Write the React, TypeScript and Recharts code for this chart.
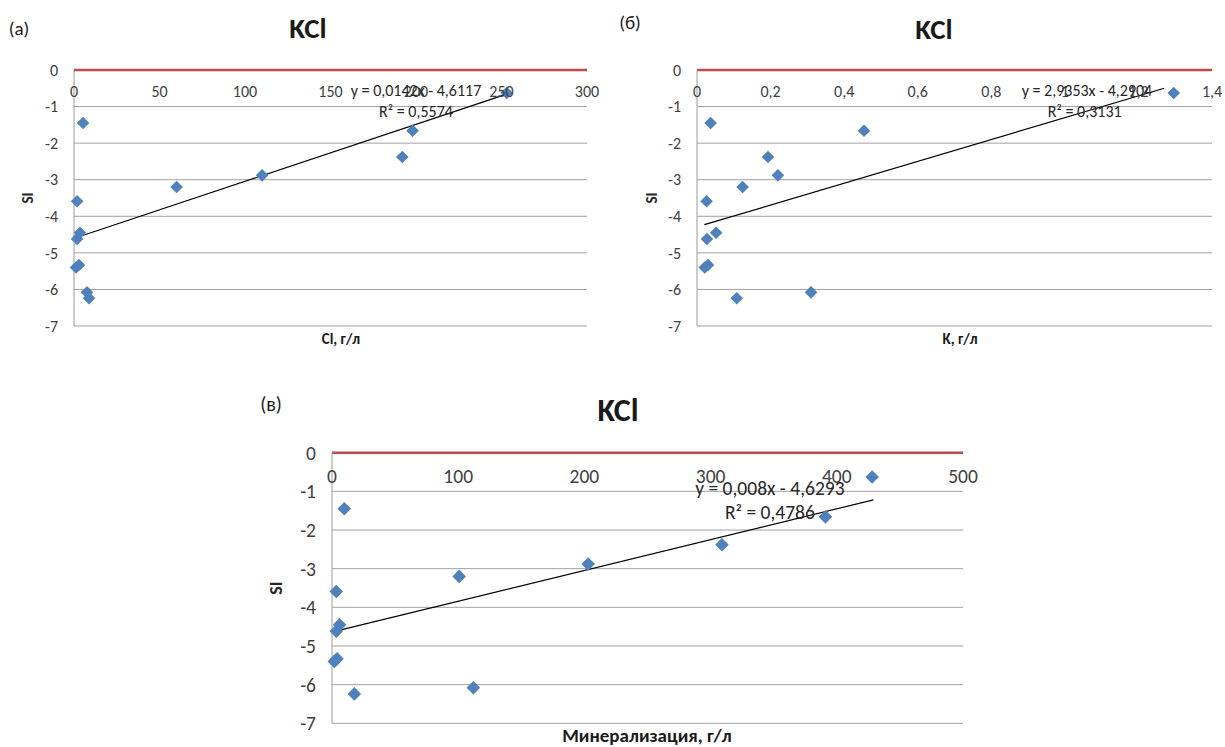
import {
  ScatterChart,
  Scatter,
  XAxis,
  YAxis,
  ZAxis,
  CartesianGrid,
  ReferenceLine,
  ReferenceDot,
} from "recharts";

const FONT = "Carlito, Calibri, Lato, 'Open Sans', sans-serif";

// SI values, same samples on every panel
const siValues = [-1.45, -3.59, -4.45, -4.62, -5.4, -5.33, -6.08, -6.24, -3.2, -2.88, -1.66, -2.38, -0.63];
// x values, in the same order
const clValues = [5.3, 1.8, 3.5, 1.8, 1.2, 2.9, 7.6, 8.8, 60, 110, 198, 192, 253];
const kValues = [0.037, 0.026, 0.052, 0.027, 0.021, 0.03, 0.31, 0.108, 0.124, 0.22, 0.454, 0.193, 1.296];
const minValues = [9.7, 3.4, 6, 3.4, 1.8, 4, 112, 17.7, 100.8, 203, 391, 309, 428];

const siTicks = [0, -1, -2, -3, -4, -5, -6, -7];
const clTicks = [0, 50, 100, 150, 200, 250, 300];
const kTicks = [0, 0.2, 0.4, 0.6, 0.8, 1, 1.2, 1.4];
const minTicks = [0, 100, 200, 300, 400, 500];

// trend line ends as drawn
const clTrend = [{ x: 1.5, y: -4.58 }, { x: 253, y: -0.66 }];
const kTrend = [{ x: 0.02, y: -4.23 }, { x: 1.27, y: -0.5 }];
const minTrend = [{ x: 1.3, y: -4.63 }, { x: 429, y: -1.22 }];

const toPoints = (xs: number[]) => xs.map((x, i) => ({ x, y: siValues[i] }));
const fmt = (v: number) => String(v).replace(".", ",");

// Excel-style square diamond marker
const diamond = (r: number) => (props: any) => {
  const { cx, cy } = props;
  return (
    <polygon
      points={`${cx},${cy - r} ${cx + r},${cy} ${cx},${cy + r} ${cx - r},${cy}`}
      fill="#4f81bd"
    />
  );
};

type PanelProps = {
  left: number;
  top: number;
  width: number;
  height: number;
  yWidth: number;
  margin: { top: number; right: number; bottom: number; left: number };
  xs: number[];
  xTicks: number[];
  trend: { x: number; y: number }[];
  eq: string;
  r2: string;
  eqAt: { x: number; y: number };
  r2At: { x: number; y: number };
  fontSize: number;
  siSize: number;
  siDx: number;
  marker: number;
};

function Panel(p: PanelProps) {
  const tickStyle = { fill: "#404040", fontSize: p.fontSize, fontFamily: FONT };
  const lbl = (value: string) => ({
    value,
    position: "center" as const,
    fill: "#262626",
    fontSize: p.fontSize,
    fontFamily: FONT,
  });
  return (
    <div style={{ position: "absolute", left: p.left, top: p.top }}>
      <ScatterChart width={p.width} height={p.height} margin={p.margin}>
        <CartesianGrid vertical={false} stroke="#a0a0a0" />
        <XAxis
          type="number"
          dataKey="x"
          domain={[p.xTicks[0], p.xTicks[p.xTicks.length - 1]]}
          ticks={p.xTicks}
          orientation="top"
          mirror
          interval={0}
          axisLine={{ stroke: "#be4b48", strokeWidth: 2.5 }}
          tickLine={false}
          tickSize={8}
          tickMargin={8}
          tickFormatter={fmt}
          tick={tickStyle}
        />
        <YAxis
          type="number"
          dataKey="y"
          domain={[-7, 0]}
          ticks={siTicks}
          interval={0}
          width={p.yWidth}
          axisLine={{ stroke: "#9a9a9a" }}
          tickLine={false}
          tickSize={8}
          tickMargin={8}
          tick={tickStyle}
          label={{
            value: "SI",
            angle: -90,
            position: "center",
            dx: p.siDx,
            fill: "#262626",
            fontSize: p.siSize,
            fontWeight: 700,
            fontFamily: FONT,
          }}
        />
        <ZAxis range={[70, 70]} />
        <ReferenceLine segment={p.trend} stroke="#000" strokeWidth={1.2} ifOverflow="visible" />
        <Scatter data={toPoints(p.xs)} fill="#4f81bd" shape={diamond(p.marker)} isAnimationActive={false} />
        <ReferenceDot x={p.eqAt.x} y={p.eqAt.y} r={0} stroke="none" label={lbl(p.eq)} />
        <ReferenceDot x={p.r2At.x} y={p.r2At.y} r={0} stroke="none" label={lbl(p.r2)} />
      </ScatterChart>
    </div>
  );
}

function Txt({ x, y, size, bold, children }: { x: number; y: number; size: number; bold?: boolean; children: string }) {
  return (
    <div
      style={{
        position: "absolute",
        left: x,
        top: y,
        transform: "translate(-50%, -50%)",
        fontFamily: FONT,
        fontSize: size,
        fontWeight: bold ? 700 : 400,
        color: "#1a1a1a",
        whiteSpace: "nowrap",
        lineHeight: 1,
      }}
    >
      {children}
    </div>
  );
}

export default function App() {
  return (
    <div style={{ position: "absolute", left: 0, top: 0, width: 1225, height: 747, background: "#fff", overflow: "hidden" }}>
      <Panel
        left={0}
        top={0}
        width={600}
        height={350}
        yWidth={74}
        margin={{ top: 70, right: 13, bottom: 24, left: 0 }}
        xs={clValues}
        xTicks={clTicks}
        trend={clTrend}
        eq="y = 0,0142x - 4,6117"
        r2="R² = 0,5574"
        eqAt={{ x: 200, y: -0.55 }}
        r2At={{ x: 200, y: -1.12 }}
        fontSize={16}
        siSize={15}
        siDx={-9}
        marker={6.3}
      />
      <Panel
        left={610}
        top={0}
        width={615}
        height={350}
        yWidth={87}
        margin={{ top: 70, right: 13, bottom: 24, left: 0 }}
        xs={kValues}
        xTicks={kTicks}
        trend={kTrend}
        eq="y = 2,9353x - 4,2904"
        r2="R² = 0,3131"
        eqAt={{ x: 1.06, y: -0.55 }}
        r2At={{ x: 1.054, y: -1.12 }}
        fontSize={16}
        siSize={15}
        siDx={-1.5}
        marker={6.3}
      />
      <Panel
        left={250}
        top={380}
        width={730}
        height={367}
        yWidth={82}
        margin={{ top: 72.7, right: 17, bottom: 23.7, left: 0 }}
        xs={minValues}
        xTicks={minTicks}
        trend={minTrend}
        eq="y = 0,008x - 4,6293"
        r2="R² = 0,4786"
        eqAt={{ x: 347, y: -0.91 }}
        r2At={{ x: 347, y: -1.53 }}
        fontSize={19.5}
        siSize={18}
        siDx={-15}
        marker={6.8}
      />

      <Txt x={308} y={28} size={29} bold>KCl</Txt>
      <Txt x={934} y={29} size={29} bold>KCl</Txt>
      <Txt x={618} y={411} size={32} bold>KCl</Txt>

      <Txt x={19} y={28} size={19}>(а)</Txt>
      <Txt x={630} y={22} size={19}>(б)</Txt>
      <Txt x={271} y={404} size={20}>(в)</Txt>

      <Txt x={341} y={339} size={15} bold>Cl, г/л</Txt>
      <Txt x={960} y={339} size={15} bold>K, г/л</Txt>
      <Txt x={647} y={735} size={19} bold>Минерализация, г/л</Txt>
    </div>
  );
}
